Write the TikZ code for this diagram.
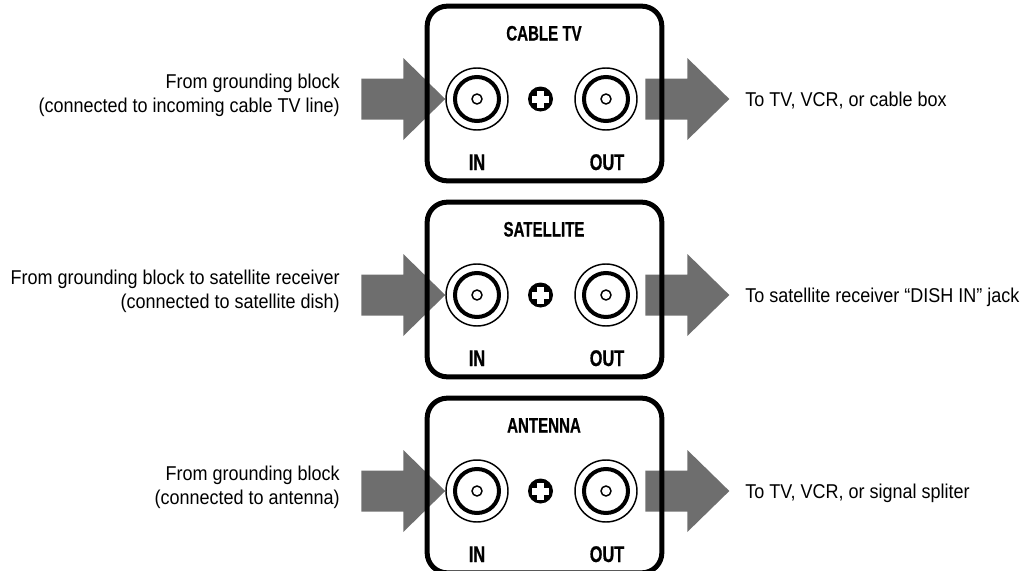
\documentclass[tikz,border=0pt]{standalone}
\usepackage{fontspec}
\setmainfont{Liberation Sans}[FakeStretch=0.9]
\newfontfamily\condbold{Liberation Sans}[FakeStretch=0.72, FakeBold=0.6]
\usetikzlibrary{positioning,calc,backgrounds}
\definecolor{arrowgray}{RGB}{110,110,110}
\tikzset{
%one unit is one pixel of the reference
x=0.75pt, y=-0.75pt,
%box around each wall plate
plate/.style={draw, line width=3.75pt, rounded corners=15pt, minimum width=176pt, minimum height=131pt, inner sep=0pt},
%jack parts
jack ring/.style={draw, circle, fill=white, line width=1.1pt, minimum size=46.5pt, inner sep=0pt},
jack core/.style={draw, circle, line width=3pt, minimum size=33pt, inner sep=0pt},
jack hole/.style={draw, circle, line width=1.1pt, minimum size=7.5pt, inner sep=0pt},
screw/.style={circle, fill=black, minimum size=18.75pt, inner sep=0pt},
%texts
side text/.style={inner sep=0pt, font=\fontsize{15}{18}\selectfont},
plate title/.style={inner sep=0pt, font=\condbold\bfseries\fontsize{15.7}{18}\selectfont},
jack label/.style={inner sep=0pt, font=\condbold\bfseries\fontsize{17}{20}\selectfont},
block arrow/.style={fill=arrowgray},
}

\begin{document}
\begin{tikzpicture}
    \useasboundingbox (0,0) rectangle (1033,571);
    \foreach \k/\title/\from/\to in {
      0/CABLE TV/{From grounding block\\(connected to incoming cable TV line)}/{To TV, VCR, or cable box},
      1/SATELLITE/{From grounding block to satellite receiver\\(connected to satellite dish)}/{To satellite receiver “DISH IN” jack},
      2/ANTENNA/{From grounding block\\(connected to antenna)}/{To TV, VCR, or signal spliter}}
    {
    \begin{scope}[shift={(0,196*\k)}]
    %plate and jacks
    \node[plate] (box\k) at (544.5,93.5) {};
    \node[jack ring] (in\k) at (477,99) {};
    \node[jack core] at (in\k) {};
    \node[jack hole] at (in\k) {};
    \node[jack ring] (out\k) at (606,99) {};
    \node[jack core] at (out\k) {};
    \node[jack hole] at (out\k) {};
    %screw in the middle
    \node[screw] (plus\k) at (540.5,99) {};
    \fill[white] ($(plus\k)+(-8.5,-3.5)$) rectangle ($(plus\k)+(8.5,3.5)$);
    \fill[white] ($(plus\k)+(-3.5,-8.5)$) rectangle ($(plus\k)+(3.5,8.5)$);
    %labels on the plate
    \node[plate title, anchor=base] (title\k) at (544,40.5) {\title};
    \node[jack label, anchor=base] (inlabel\k) at (477,170) {IN};
    \node[jack label, anchor=base] (outlabel\k) at (607,170) {OUT};
    %texts beside it
    \node[side text, anchor=east, align=right] (from\k) at (340,95) {\from};
    \node[side text, anchor=base west] (to\k) at (745,106) {\to};
    %big arrows, behind the plate
    \coordinate (tip\k) at ($(box\k.east |- out\k)+(65,0)$);
    \begin{pgfonlayer}{background}
    \fill[block arrow] (in\k.west) -- ++(-42,-41) -- ++(0,20.5) -- ++(-42,0)
      -- ++(0,41) -- ++(42,0) -- ++(0,20.5) -- cycle;
    \fill[block arrow] (tip\k) -- ++(-42,-41) -- ++(0,20.5) -- ++(-42,0)
      -- ++(0,41) -- ++(42,0) -- ++(0,20.5) -- cycle;
    \end{pgfonlayer}
    \end{scope}
    }
\end{tikzpicture}
\end{document}
